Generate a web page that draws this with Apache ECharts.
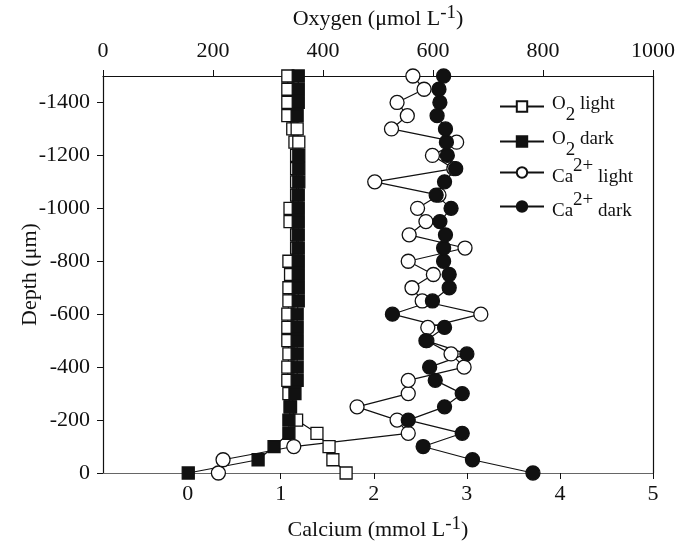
<!DOCTYPE html>
<html>
<head>
<meta charset="utf-8">
<script src="https://cdn.jsdelivr.net/npm/echarts@6/dist/echarts.min.js"></script>
<style>
html, body { margin: 0; background: #fff; }
#chart { width: 679px; height: 546px; }
</style>
</head>
<body>
<div id="chart"></div>
<script>
// depth (µm), from the surface down to -1500
const depths = [0, -50, -100, -150, -200, -250, -300, -350, -400, -450, -500,
    -550, -600, -650, -700, -750, -800, -850, -900, -950, -1000,
    -1050, -1100, -1150, -1200, -1250, -1300, -1350, -1400, -1450, -1500];

// oxygen (µmol L-1)
const o2Light = [442, 418, 411, 389, 352, 340, 338, 336, 336, 338, 336,
    336, 336, 338, 338, 341, 338, 352, 352, 340, 340,
    352, 352, 352, 352, 349, 345, 336, 336, 336, 336];
const o2Dark = [155, 282, 311, 338, 338, 341, 349, 353, 353, 353, 353,
    353, 353, 355, 355, 355, 355, 355, 355, 355, 355,
    355, 356, 356, 356, 356, 353, 353, 355, 355, 355];

// calcium (mmol L-1)
const caLight = [0.33, 0.38, 1.14, 2.37, 2.25, 1.82, 2.37, 2.37, 2.97, 2.83, 2.57,
    2.58, 3.15, 2.52, 2.41, 2.64, 2.37, 2.98, 2.38, 2.56, 2.47,
    2.70, 2.01, 2.86, 2.63, 2.89, 2.19, 2.36, 2.25, 2.54, 2.42];
const caDark = [3.71, 3.06, 2.53, 2.95, 2.37, 2.76, 2.95, 2.66, 2.60, 3.00, 2.56,
    2.76, 2.20, 2.63, 2.81, 2.81, 2.75, 2.75, 2.77, 2.71, 2.83,
    2.67, 2.76, 2.88, 2.79, 2.78, 2.77, 2.68, 2.71, 2.70, 2.75];

// O2 dark points that look hollow in the scan
const hollowDark = [-1300, -1250];

const calciumTicks = [0, 1, 2, 3, 4, 5];
const depthTicks = [0, -200, -400, -600, -800, -1000, -1200, -1400];

const FONT = 'Liberation Serif';
const INK = '#111';

function pairs(xs) {
    return depths.map((d, i) => [xs[i], d]);
}

const o2DarkData = depths.map((d, i) => {
    if (hollowDark.indexOf(d) >= 0) {
        return { value: [o2Dark[i], d], itemStyle: { color: '#fff' } };
    }
    return [o2Dark[i], d];
});

// sub/superscripts are faked with token padding (shifts by half the padding)
const legendText = {
    'O2 light': '{g|}{b|O}{sub|2}{b| light}',
    'O2 dark': '{g|}{b|O}{sub|2}{b| dark}',
    'Ca2+ light': '{g|}{low|Ca}{sup|2+}{low| light}',
    'Ca2+ dark': '{g|}{low|Ca}{sup|2+}{low| dark}'
};

const legendRich = {
    g: { width: 3 },
    b: { fontFamily: FONT, fontSize: 19, color: INK, padding: [0, 0, 4, 0] },
    sub: { fontFamily: FONT, fontSize: 19, color: INK, padding: [18, 0, 0, 0] },
    low: { fontFamily: FONT, fontSize: 19, color: INK, padding: [10, 0, 0, 0] },
    sup: { fontFamily: FONT, fontSize: 19, color: INK, padding: [0, 0, 12, 0] }
};

const plain = v => String(v);

function lineSeries(name, data, axis, symbol, size, fill) {
    return {
        name: name,
        type: 'line',
        xAxisIndex: axis,
        data: data,
        symbol: symbol,
        symbolSize: size,
        showAllSymbol: true,
        lineStyle: { color: INK, width: 1.2 },
        itemStyle: { color: fill, borderColor: INK, borderWidth: 1.3 },
        emphasis: { disabled: true },
        animation: false
    };
}

const names = ['O2 light', 'O2 dark', 'Ca2+ light', 'Ca2+ dark'];
const legendTops = [90, 125, 152, 186];

const chart = echarts.init(document.getElementById('chart'));

chart.setOption({
    backgroundColor: '#fff',
    textStyle: { fontFamily: FONT, color: INK },
    grid: { left: 103, right: 26, top: 76, bottom: 73, outerBoundsMode: 'none' },
    legend: names.map((n, i) => ({
        data: [n],
        left: 494,
        top: legendTops[i],
        itemWidth: 44,
        itemHeight: 13,
        formatter: name => legendText[name],
        textStyle: { rich: legendRich },
        selectedMode: false
    })),
    xAxis: [
        {
            type: 'value',
            position: 'top',
            min: 0,
            max: 1000,
            interval: 200,
            name: 'Oxygen (μmol L{sup|-1})',
            nameLocation: 'middle',
            nameGap: 41,
            nameMoveOverlap: false,
            nameTextStyle: {
                fontFamily: FONT, fontSize: 22, color: INK,
                rich: { sup: { fontFamily: FONT, fontSize: 19, color: INK, padding: [0, 0, 12, 0] } }
            },
            splitLine: { show: false },
            axisLine: { onZero: false, lineStyle: { color: INK, width: 1.2 } },
            axisTick: { length: 6, lineStyle: { color: INK } },
            axisLabel: { fontFamily: FONT, fontSize: 22, color: INK, margin: 14, formatter: plain }
        },
        {
            type: 'value',
            position: 'bottom',
            min: -0.91,
            max: 5,
            name: 'Calcium (mmol L{sup|-1})',
            nameLocation: 'middle',
            nameGap: 42,
            nameMoveOverlap: false,
            nameTextStyle: {
                fontFamily: FONT, fontSize: 22, color: INK,
                rich: { sup: { fontFamily: FONT, fontSize: 19, color: INK, padding: [0, 0, 12, 0] } }
            },
            splitLine: { show: false },
            axisLine: { onZero: false, lineStyle: { color: '#666', width: 1.2 } },
            axisTick: { length: 6, customValues: calciumTicks, lineStyle: { color: INK } },
            axisLabel: { fontFamily: FONT, fontSize: 22, color: INK, margin: 10, customValues: calciumTicks, formatter: plain }
        }
    ],
    yAxis: [
        {
            type: 'value',
            min: -1500,
            max: 0,
            inverse: true,
            name: 'Depth (μm)',
            nameLocation: 'middle',
            nameGap: 62,
            nameMoveOverlap: false,
            nameTextStyle: { fontFamily: FONT, fontSize: 22, color: INK },
            splitLine: { show: false },
            axisLine: { show: true, onZero: false, lineStyle: { color: INK, width: 1.2 } },
            axisTick: { show: true, length: 6, customValues: depthTicks, lineStyle: { color: INK } },
            axisLabel: { fontFamily: FONT, fontSize: 22, color: INK, margin: 13, customValues: depthTicks, formatter: plain }
        },
        {
            type: 'value',
            position: 'right',
            min: -1500,
            max: 0,
            inverse: true,
            splitLine: { show: false },
            axisLine: { show: true, onZero: false, lineStyle: { color: INK, width: 1.2 } },
            axisTick: { show: false },
            axisLabel: { show: false }
        }
    ],
    series: [
        lineSeries('O2 light', pairs(o2Light), 0, 'rect', 12, '#fff'),
        lineSeries('O2 dark', o2DarkData, 0, 'rect', 12, INK),
        lineSeries('Ca2+ light', pairs(caLight), 1, 'circle', 14, '#fff'),
        lineSeries('Ca2+ dark', pairs(caDark), 1, 'circle', 14, INK)
    ]
});
</script>
</body>
</html>
